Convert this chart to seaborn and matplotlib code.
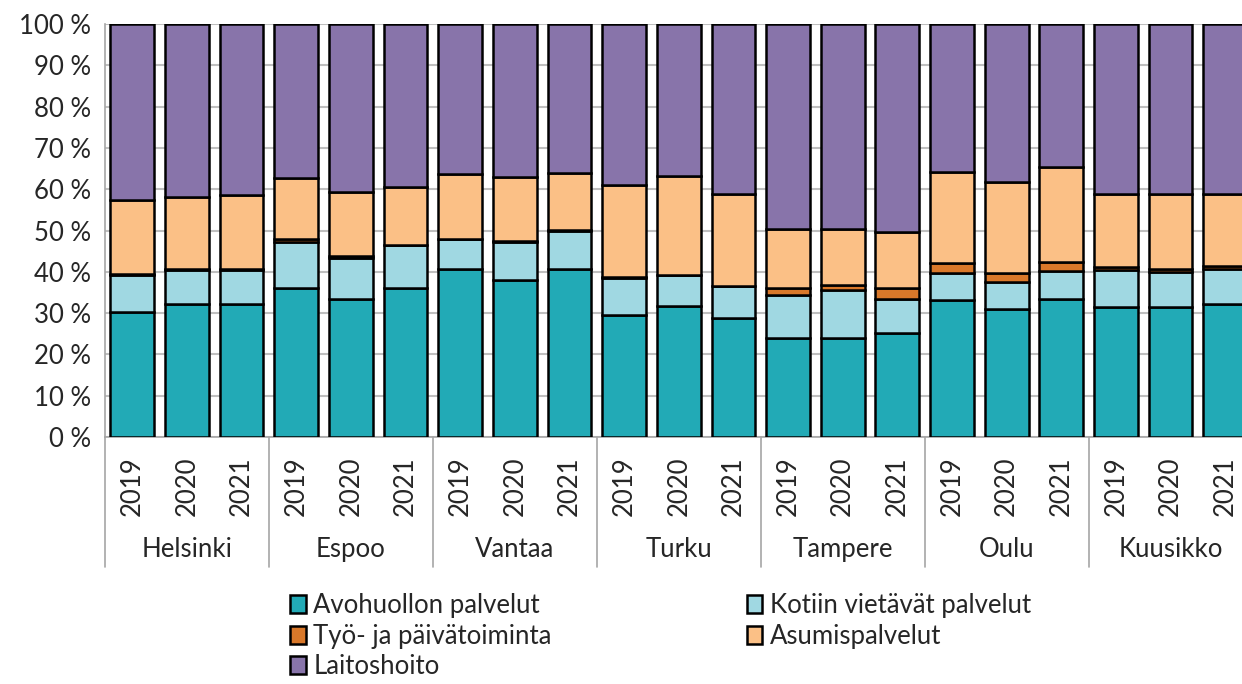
import numpy as np
import pandas as pd
import matplotlib
matplotlib.use("Agg")
import matplotlib.pyplot as plt
import seaborn as sns
from matplotlib.patches import Patch


cities = ["Helsinki", "Espoo", "Vantaa", "Turku", "Tampere", "Oulu", "Kuusikko"]
years = ["2019", "2020", "2021"]

series_names = [
    "Avohuollon palvelut",
    "Kotiin vietävät palvelut",
    "Työ- ja päivätoiminta",
    "Asumispalvelut",
    "Laitoshoito",
]

# shares in %, order: Helsinki 19/20/21, Espoo ..., Kuusikko
avohuolto = [30.3, 32.1, 32.1, 36.2, 33.5, 36.2, 40.8, 38.0, 40.8,
             29.5, 31.8, 28.9, 24.1, 23.9, 25.1, 33.2, 30.9, 33.5,
             31.6, 31.6, 32.1]
kotiin = [8.9, 8.3, 8.3, 11.1, 9.9, 10.2, 7.1, 9.3, 9.2,
          9.1, 7.4, 7.6, 10.3, 11.7, 8.4, 6.4, 6.7, 6.7,
          8.8, 8.4, 8.7]
tyo = [0.2, 0.2, 0.2, 0.6, 0.4, 0.2, 0.1, 0.1, 0.1,
       0.1, 0.1, 0.1, 1.8, 1.2, 2.5, 2.6, 2.2, 2.2,
       0.7, 0.8, 0.6]
asumis = [18.0, 17.6, 18.0, 14.7, 15.6, 14.0, 15.7, 15.6, 13.9,
          22.2, 23.9, 22.2, 14.1, 13.5, 13.7, 22.0, 22.0, 23.0,
          17.7, 18.0, 17.4]
laitos = [42.6, 41.8, 41.4, 37.4, 40.6, 39.4, 36.3, 37.0, 36.0,
          39.1, 36.8, 41.2, 49.7, 49.7, 50.3, 35.8, 38.2, 34.6,
          41.2, 41.2, 41.2]

colors = ["#22aab6", "#a0d8e2", "#d9782a", "#fbc086", "#8874aa"]


labels = [f"{c} {y}" for c in cities for y in years]
values = [avohuolto, kotiin, tyo, asumis, laitos]

FS = 18.5

sns.set_style("white")
plt.rcParams["font.family"] = ["Lato", "DejaVu Sans"]

fig = plt.figure(figsize=(12.42, 6.84), dpi=100)
ax = fig.add_axes([0.0845, 0.361, 0.924, 0.604])

bottom = np.zeros(len(labels))
for name, vals, col in zip(series_names, values, colors):
    vals = np.array(vals)
    sns.barplot(
        x=labels,
        y=vals,
        bottom=bottom,
        color=col,
        saturation=1,
        width=0.8,
        edgecolor="black",
        linewidth=1.8,
        ax=ax,
        zorder=3,
    )
    bottom = bottom + vals

ax.set_ylim(0, 100)
ax.set_xlim(-0.5, len(labels) - 0.5)
ax.set_yticks(range(0, 101, 10))
ax.set_yticklabels([f"{v} %" for v in range(0, 101, 10)], fontsize=FS, color="#262626")
ax.yaxis.grid(True, color="#bfbfbf", linewidth=1.5, zorder=0)
ax.set_axisbelow(True)
ax.tick_params(axis="y", length=0, pad=10)
ax.set_xticks([])
ax.set_xlabel("")
ax.set_ylabel("")

for s in ["top", "right"]:
    ax.spines[s].set_visible(False)
for s in ["left", "bottom"]:
    ax.spines[s].set_color("#a6a6a6")
    ax.spines[s].set_linewidth(1.2)


# two level category axis
for i, lab in enumerate(labels):
    ax.text(i, -11.8, lab.split()[1], rotation=90, ha="center", va="center",
            fontsize=FS, color="#262626", clip_on=False)

for g, c in enumerate(cities):
    ax.text(g * 3 + 1, -27.3, c, ha="center", va="center",
            fontsize=FS, color="#262626", clip_on=False)

for g in range(len(cities) + 1):
    ax.plot([g * 3 - 0.5, g * 3 - 0.5], [0, -31.5], color="#a6a6a6",
            linewidth=1.2, clip_on=False)


handles = [Patch(facecolor=c, edgecolor="black", linewidth=1.8) for c in colors]
order = [0, 2, 4, 1, 3]
fig.legend(
    [handles[i] for i in order],
    [series_names[i] for i in order],
    loc="center",
    bbox_to_anchor=(0.532, 0.07),
    ncol=2,
    frameon=False,
    fontsize=FS,
    handlelength=0.6,
    handleheight=0.7,
    handletextpad=0.3,
    columnspacing=7.6,
    labelspacing=0.2,
    borderpad=0.2,
)

plt.savefig("out.png", dpi=100)
plt.close()
